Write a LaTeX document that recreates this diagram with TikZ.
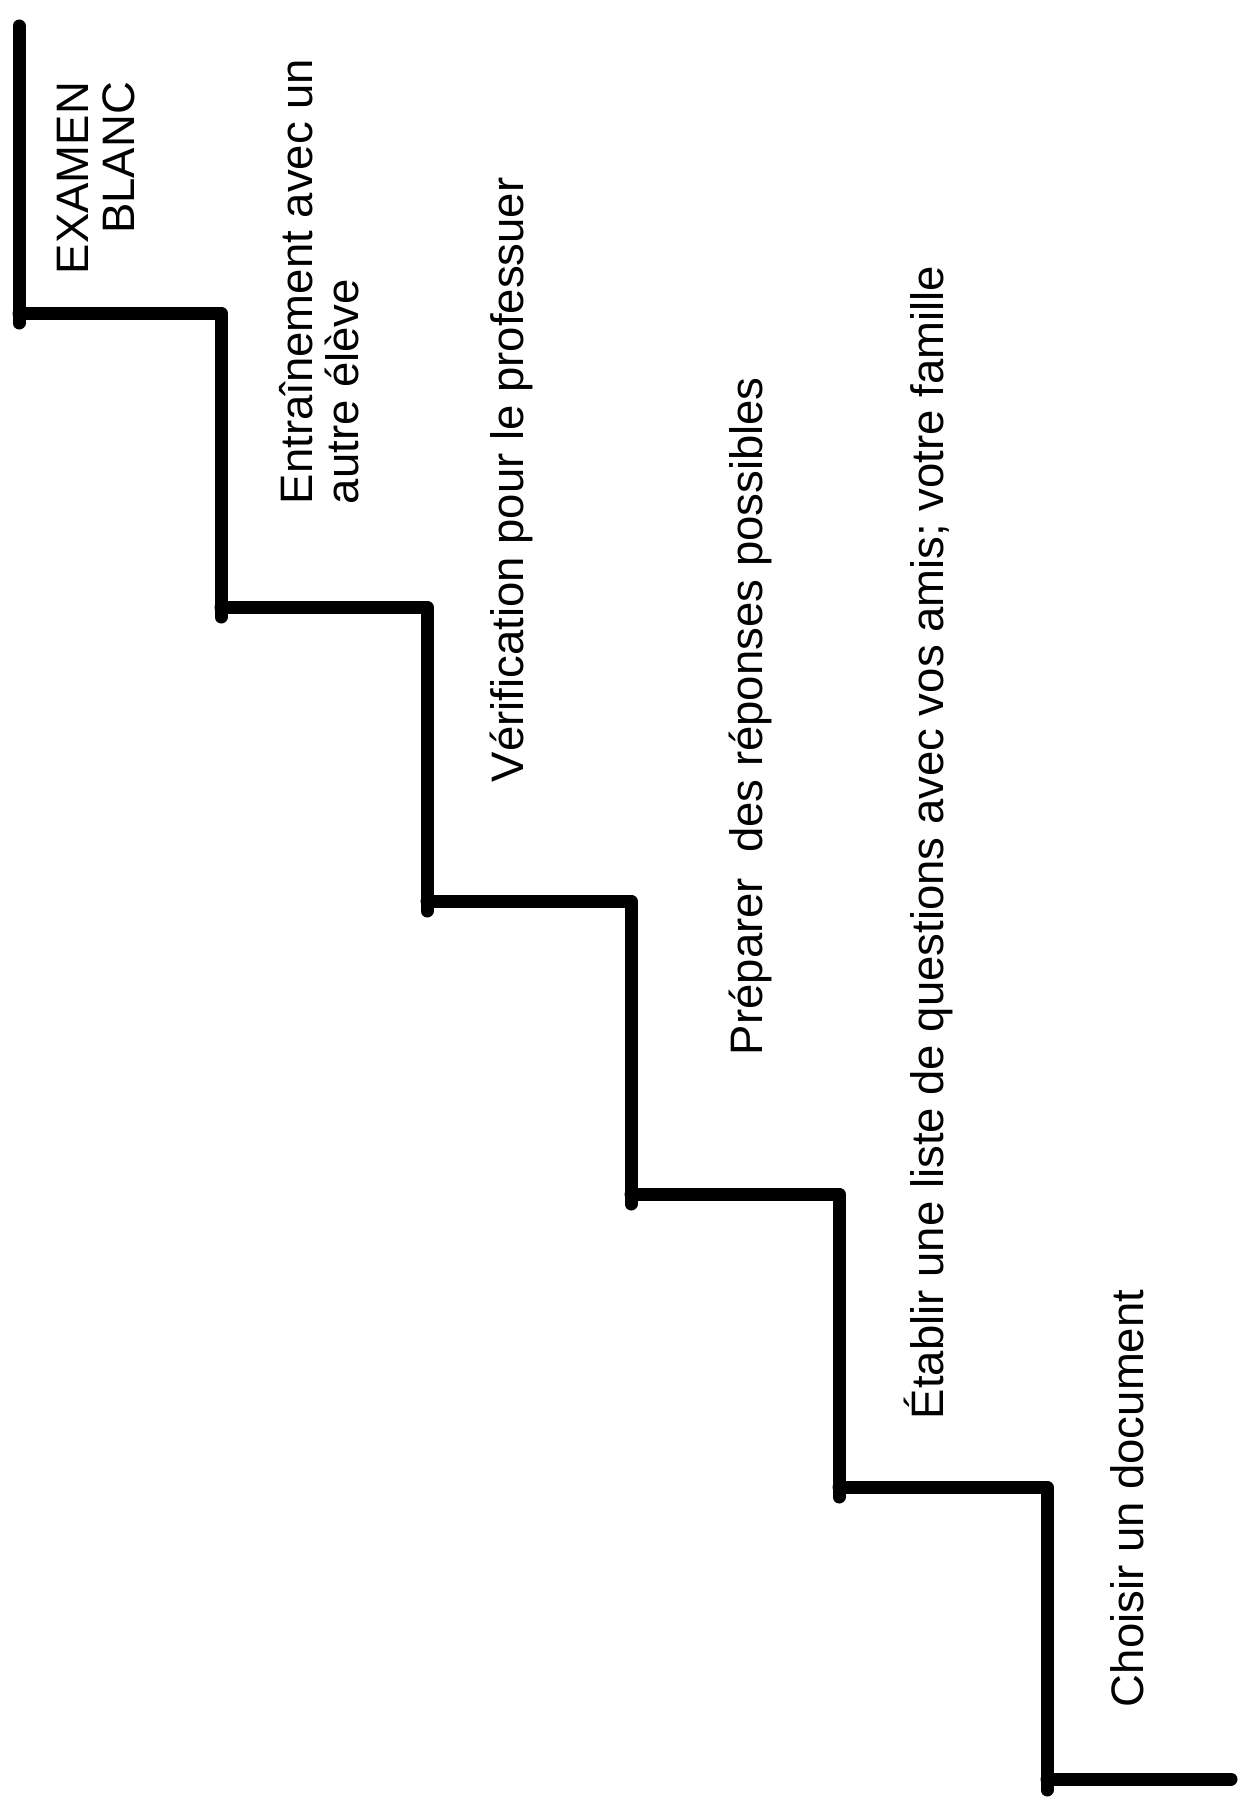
\documentclass[tikz,border=0pt]{standalone}
\usepackage{fontspec}
\setmainfont{Liberation Sans}
\begin{document}
\begin{tikzpicture}[x=1pt,y=-1pt,
  stair/.style={line width=13pt, line cap=round, line join=round, black},
  steptext/.style={rotate=90, inner sep=0pt, outer sep=0pt, font=\fontsize{45.5}{46.5}\selectfont}]
\useasboundingbox (0,0) rectangle (1243,1801);
% corners of the staircase
\coordinate (top) at (19,26);
\coordinate (v1) at (19,323);
\coordinate (h1) at (19,313);
\coordinate (c1) at (221,313);
\coordinate (v2) at (221,617);
\coordinate (h2) at (221,607);
\coordinate (c2) at (427,607);
\coordinate (v3) at (427,911);
\coordinate (h3) at (427,901);
\coordinate (c3) at (631,901);
\coordinate (v4) at (631,1204);
\coordinate (h4) at (631,1194);
\coordinate (c4) at (839,1194);
\coordinate (v5) at (839,1497);
\coordinate (h5) at (839,1487);
\coordinate (c5) at (1047,1487);
\coordinate (v6) at (1047,1790);
\coordinate (h6) at (1047,1779);
\coordinate (end) at (1231,1779);
\draw[stair] (top) -- (v1);
\draw[stair] (h1) -- (c1) -- (v2);
\draw[stair] (h2) -- (c2) -- (v3);
\draw[stair] (h3) -- (c3) -- (v4);
\draw[stair] (h4) -- (c4) -- (v5);
\draw[stair] (h5) -- (c5) -- (v6);
\draw[stair] (h6) -- (end);
% texts
\node[steptext, align=right, anchor=north east] (t1) at (57,82) {EXAMEN\\BLANC};
\node[steptext, align=left, anchor=north west] (t2) at (279,504) {Entraînement avec un\\autre élève};
\node[steptext, anchor=base west] (t3) at (523,782) {Vérification pour le professuer};
\node[steptext, anchor=base west] (t4) at (762,1055) {Préparer\ \ des réponses possibles};
\node[steptext, anchor=base west] (t5) at (943,1419) {Établir une liste de questions avec vos amis; votre famille};
\node[steptext, anchor=base west] (t6) at (1143,1707) {Choisir un document};
\end{tikzpicture}
\end{document}
